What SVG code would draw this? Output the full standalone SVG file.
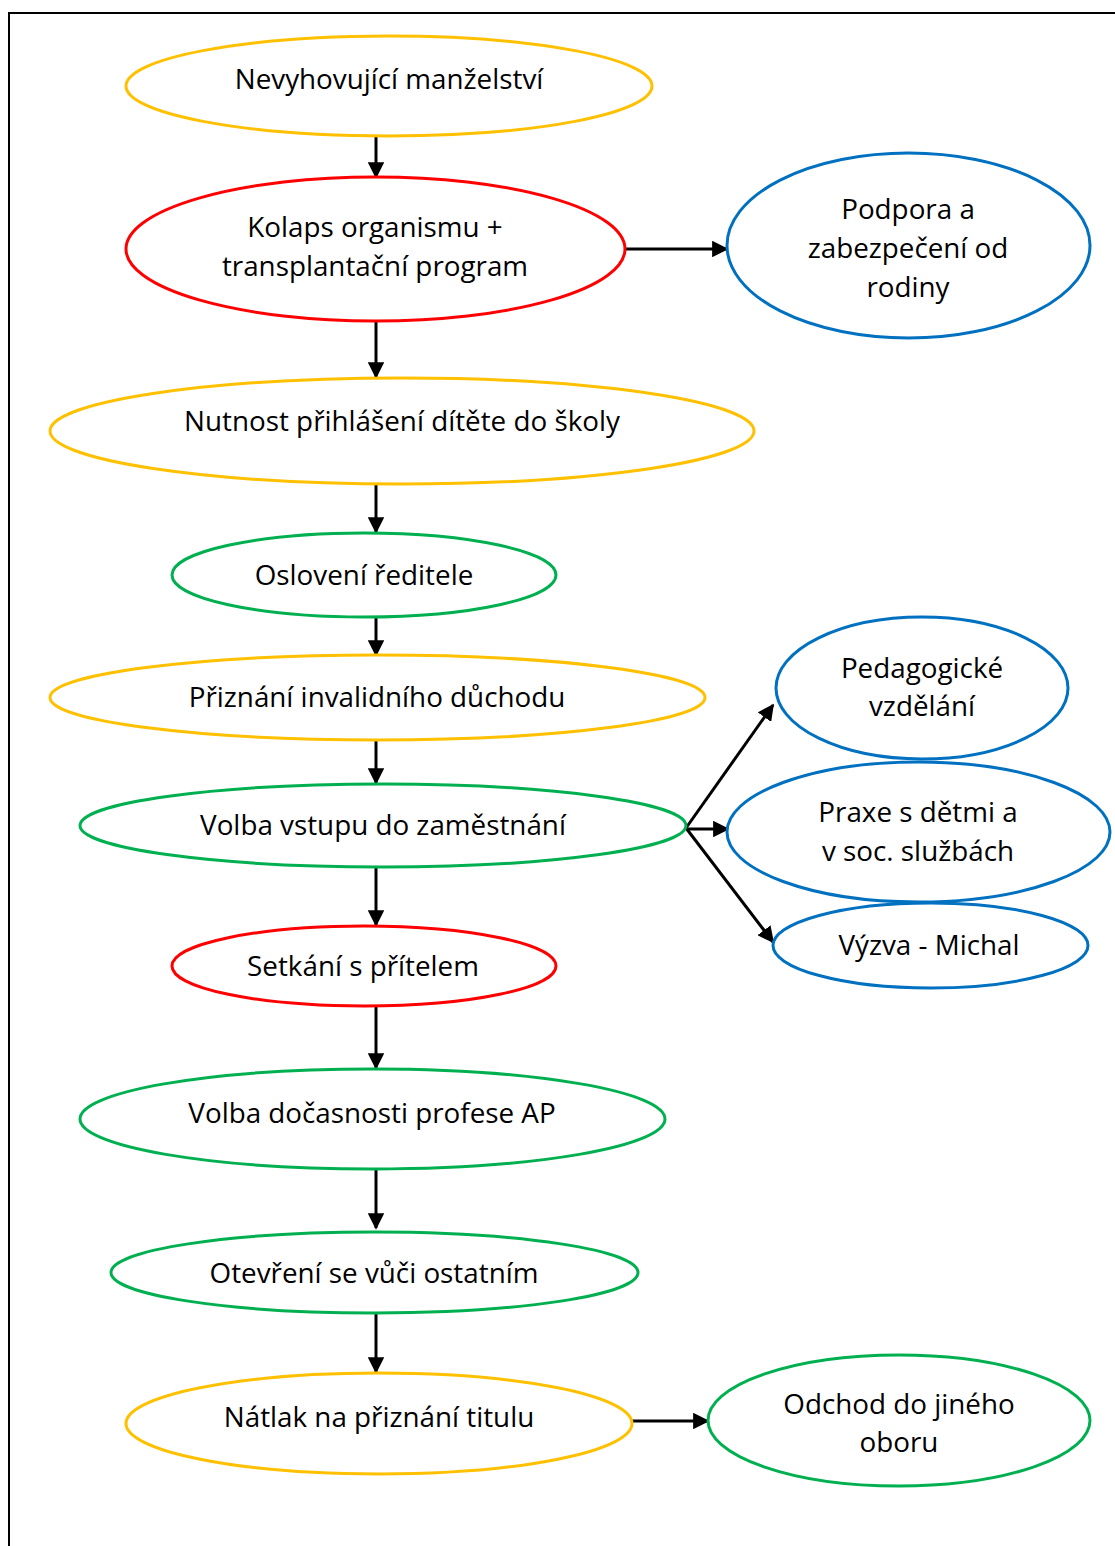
<svg xmlns="http://www.w3.org/2000/svg" width="1115" height="1546" viewBox="0 0 1115 1546">
  <style>
    .node { fill: #ffffff; stroke-width: 3; }
    .yellow { stroke: #FFC000; }
    .red { stroke: #FF0000; }
    .blue { stroke: #0070C0; }
    .green { stroke: #00B050; }
    .label { font-family: "Open Sans", "Liberation Sans", sans-serif; font-size: 27.8px; fill: #000000; text-anchor: middle; }
    .edge { stroke: #000000; stroke-width: 3; fill: none; marker-end: url(#arrow); }
  </style>
  <defs>
    <marker id="arrow" viewBox="0 0 10 10" refX="9" refY="5" markerWidth="5.5" markerHeight="5.5" orient="auto" markerUnits="strokeWidth">
      <path d="M0,0 L10,5 L0,10 Z" fill="#000000"/>
    </marker>
  </defs>
  <rect width="1115" height="1546" fill="#ffffff"/>
  <!-- outer frame -->
  <rect x="9" y="13" width="1120" height="1560" fill="none" stroke="#000000" stroke-width="2"/>

  <g id="connectors">
    <line class="edge" x1="376" y1="136" x2="376" y2="177"/>
    <line class="edge" x1="376" y1="321" x2="376" y2="377"/>
    <line class="edge" x1="376" y1="484" x2="376" y2="532"/>
    <line class="edge" x1="376" y1="617" x2="376" y2="655"/>
    <line class="edge" x1="376" y1="740" x2="376" y2="783"/>
    <line class="edge" x1="376" y1="867" x2="376" y2="925"/>
    <line class="edge" x1="376" y1="1006" x2="376" y2="1068"/>
    <line class="edge" x1="376" y1="1165" x2="376" y2="1228"/>
    <line class="edge" x1="376" y1="1313" x2="376" y2="1372"/>
    <line class="edge" x1="625" y1="249" x2="727" y2="249"/>
    <line class="edge" x1="632" y1="1421" x2="708" y2="1421"/>
    <line class="edge" x1="686" y1="828" x2="773" y2="705"/>
    <line class="edge" x1="686" y1="829" x2="728" y2="829"/>
    <line class="edge" x1="686" y1="828" x2="773" y2="942"/>
  </g>

  <g id="n1">
    <ellipse class="node yellow" cx="389" cy="86" rx="263" ry="50"/>
    <text class="label" x="389" y="89">Nevyhovující manželství</text>
  </g>
  <g id="n2">
    <ellipse class="node red" cx="375.5" cy="249" rx="249.5" ry="72"/>
    <text class="label" x="375" y="237">Kolaps organismu +</text>
    <text class="label" x="375" y="276">transplantační program</text>
  </g>
  <g id="n3">
    <ellipse class="node blue" cx="908.5" cy="245.5" rx="181.5" ry="92.5"/>
    <text class="label" x="908" y="219">Podpora a</text>
    <text class="label" x="908" y="258">zabezpečení od</text>
    <text class="label" x="908" y="297">rodiny</text>
  </g>
  <g id="n4">
    <ellipse class="node yellow" cx="402" cy="431" rx="352" ry="53"/>
    <text class="label" x="402" y="431">Nutnost přihlášení dítěte do školy</text>
  </g>
  <g id="n5">
    <ellipse class="node green" cx="364" cy="575" rx="192" ry="42"/>
    <text class="label" x="364" y="585">Oslovení ředitele</text>
  </g>
  <g id="n6">
    <ellipse class="node yellow" cx="377.5" cy="697.5" rx="327.5" ry="42.5"/>
    <text class="label" x="377" y="707">Přiznání invalidního důchodu</text>
  </g>
  <g id="n7">
    <ellipse class="node green" cx="383" cy="825.5" rx="303" ry="41.5"/>
    <text class="label" x="383" y="835">Volba vstupu do zaměstnání</text>
  </g>
  <g id="n8">
    <ellipse class="node red" cx="364" cy="966" rx="192" ry="40"/>
    <text class="label" x="363" y="976">Setkání s přítelem</text>
  </g>
  <g id="n9">
    <ellipse class="node green" cx="372.5" cy="1119" rx="292.5" ry="50"/>
    <text class="label" x="372" y="1123">Volba dočasnosti profese AP</text>
  </g>
  <g id="n10">
    <ellipse class="node green" cx="374.5" cy="1272.5" rx="263.5" ry="40.5"/>
    <text class="label" x="374" y="1283">Otevření se vůči ostatním</text>
  </g>
  <g id="n11">
    <ellipse class="node yellow" cx="379" cy="1423.5" rx="253" ry="50.5"/>
    <text class="label" x="379" y="1427">Nátlak na přiznání titulu</text>
  </g>
  <g id="n12">
    <ellipse class="node green" cx="899" cy="1420.5" rx="191" ry="65.5"/>
    <text class="label" x="899" y="1414">Odchod do jiného</text>
    <text class="label" x="899" y="1452">oboru</text>
  </g>
  <g id="n13">
    <ellipse class="node blue" cx="922" cy="688" rx="146" ry="71"/>
    <text class="label" x="922" y="678">Pedagogické</text>
    <text class="label" x="922" y="716">vzdělání</text>
  </g>
  <g id="n14">
    <ellipse class="node blue" cx="918.5" cy="832" rx="191.5" ry="70"/>
    <text class="label" x="918" y="822">Praxe s dětmi a</text>
    <text class="label" x="918" y="861">v soc. službách</text>
  </g>
  <g id="n15">
    <ellipse class="node blue" cx="930.5" cy="945.5" rx="157.5" ry="42.5"/>
    <text class="label" x="929" y="955">Výzva - Michal</text>
  </g>
</svg>
